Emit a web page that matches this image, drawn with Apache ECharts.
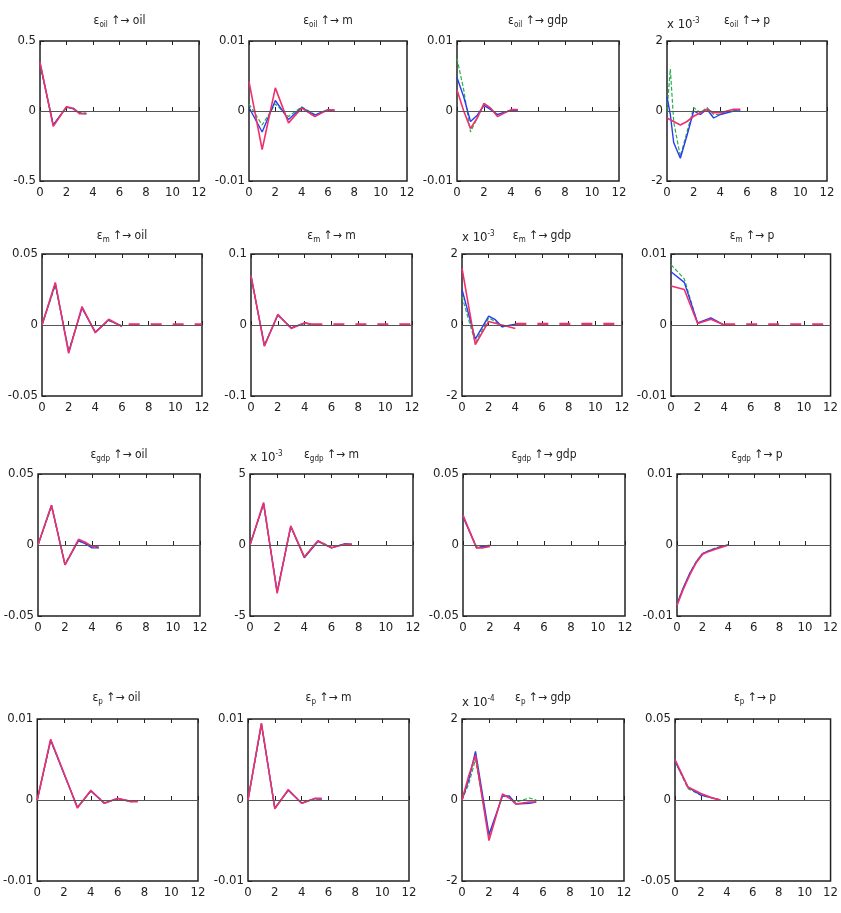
<!DOCTYPE html>
<html>
<head>
<meta charset="utf-8">
<script src="https://cdn.jsdelivr.net/npm/echarts@6/dist/echarts.min.js"></script>
<style>html,body{margin:0;background:#fff}#chart{width:841px;height:913px}</style>
</head>
<body>
<div id="chart"></div>
<script>
// impulse responses: shocks (rows) -> variables (columns)
const shocks = ['oil', 'm', 'gdp', 'p'];
const variables = ['oil', 'm', 'gdp', 'p'];
const xTicks = [0, 2, 4, 6, 8, 10, 12];

// row 1: oil shock
const t11 = [0, 1, 2, 2.5, 3, 3.5];
const red11 = [0.35, -0.11, 0.03, 0.02, -0.02, -0.02];
const blue11 = [0.34, -0.1, 0.03, 0.015, -0.015, -0.02];
const green11 = [0.33, -0.1, 0.025, 0.02, -0.01, -0.015];

const t12 = [0, 1, 2, 3, 4, 5, 6, 6.5];
const red12 = [0.0042, -0.0055, 0.0033, -0.0017, 0.0004, -0.0008, 0.0002, 0.0001];
const blue12 = [0.0005, -0.003, 0.0015, -0.0012, 0.0005, -0.0006, 0.0002, 0.0001];
const green12 = [0.001, -0.002, 0.001, -0.0008, 0.0006, -0.0005, 0.0001, 0.0001];

const t13 = [0, 0.5, 1, 1.5, 2, 2.5, 3, 3.5, 4, 4.5];
const red13 = [0.003, 0, -0.0025, -0.001, 0.0011, 0.0004, -0.0008, -0.0003, 0.0002, 0.0002];
const blue13 = [0.0048, 0.002, -0.0015, -0.0006, 0.0008, 0.0002, -0.0005, -0.0002, 0.0001, 0.0001];
const green13 = [0.0075, 0.003, -0.003, -0.001, 0.001, 0.0003, -0.0006, -0.0002, 0.0001, 0.0001];

const t14 = [0, 0.25, 0.5, 1, 1.5, 2, 2.5, 3, 3.5, 4, 4.5, 5, 5.5]; // x 10^-3
const red14 = [-0.2, -0.25, -0.3, -0.4, -0.3, -0.15, -0.05, 0.05, -0.05, -0.05, 0, 0.05, 0.05];
const blue14 = [0.4, -0.1, -0.9, -1.35, -0.7, 0, -0.1, 0.05, -0.2, -0.1, -0.05, 0, 0];
const green14 = [0, 1.2, -0.3, -1.3, -0.6, 0.1, -0.05, 0.1, -0.1, -0.1, 0, 0, 0];

// row 2: m shock
const t21 = [0, 1, 2, 3, 4, 5, 6];
const red21 = [0, 0.03, -0.02, 0.013, -0.0055, 0.004, -0.001];
const blue21 = [0, 0.029, -0.019, 0.012, -0.005, 0.0035, -0.001];
const green21 = [0, 0.028, -0.018, 0.012, -0.005, 0.003, -0.0005];

const t22 = [0, 1, 2, 3, 4, 4.5];
const red22 = [0.07, -0.03, 0.015, -0.005, 0.003, 0.001];
const blue22 = [0.069, -0.029, 0.014, -0.004, 0.003, 0.001];
const green22 = [0.068, -0.028, 0.014, -0.004, 0.002, 0.001];

const t23 = [0, 1, 2, 2.5, 3, 4]; // x 10^-3
const red23 = [1.6, -0.55, 0.1, 0.05, 0, -0.1];
const blue23 = [1.0, -0.4, 0.25, 0.15, -0.05, 0.02];
const green23 = [0.8, -0.5, 0.2, 0.1, -0.05, 0];

const t24 = [0, 1, 2, 3, 4];
const red24 = [0.0055, 0.005, 0.0002, 0.0008, 0];
const blue24 = [0.0075, 0.006, 0.0003, 0.001, 0];
const green24 = [0.0085, 0.0065, 0.0002, 0.0009, 0];

// long-run tails (dashed) for the m shock row: [start, end] and level
const tTail21 = [6.5, 12], tail21 = [0.0004, 0.0004];
const tTail22 = [4.5, 12], tail22 = [0.0008, 0.0008];
const tTail23 = [4, 12], tail23 = [0.03, 0.03];
const tTail24 = [4, 12], tail24 = [0.00005, 0.00005];

// row 3: gdp shock
const t31 = [0, 1, 2, 3, 3.5, 4, 4.5];
const red31 = [0, 0.028, -0.014, 0.004, 0.002, -0.001, -0.001];
const blue31 = [0, 0.028, -0.014, 0.003, 0.001, -0.002, -0.002];
const green31 = [0, 0.027, -0.013, 0.003, 0.001, -0.001, -0.002];

const t32 = [0, 1, 2, 3, 4, 5, 6, 7, 7.5]; // x 10^-3
const red32 = [0, 3.0, -3.4, 1.35, -0.85, 0.3, -0.2, 0.05, 0.05];
const blue32 = [0, 2.9, -3.3, 1.3, -0.9, 0.25, -0.2, 0.1, 0.05];
const green32 = [0, 2.9, -3.3, 1.3, -0.8, 0.3, -0.15, 0.05, 0];

const t33 = [0, 1, 1.5, 2];
const red33 = [0.021, -0.002, -0.002, -0.001];
const blue33 = [0.02, -0.002, -0.001, -0.001];
const green33 = [0.02, -0.001, -0.001, 0];

const t34 = [0, 0.5, 1, 1.5, 2, 2.5, 3, 3.5, 4];
const red34 = [-0.0085, -0.0062, -0.0042, -0.0025, -0.0013, -0.0009, -0.0006, -0.0003, 0];
const blue34 = [-0.0083, -0.006, -0.004, -0.0024, -0.0012, -0.0008, -0.0005, -0.0002, 0];
const green34 = [-0.0082, -0.006, -0.004, -0.0023, -0.0012, -0.0008, -0.0004, -0.0002, 0];

// row 4: p shock
const t41 = [0, 1, 2, 3, 4, 5, 6, 7, 7.5];
const red41 = [0, 0.0075, 0.0033, -0.001, 0.0012, -0.0004, 0.0002, -0.0002, -0.0002];
const blue41 = [0, 0.0074, 0.0032, -0.0009, 0.0011, -0.0004, 0.0002, -0.0002, -0.0001];
const green41 = [0, 0.0073, 0.0032, -0.0009, 0.0011, -0.0003, 0.0001, -0.0001, -0.0001];

const t42 = [0, 1, 2, 3, 4, 5, 5.5];
const red42 = [0, 0.0095, -0.0011, 0.0013, -0.0004, 0.0002, 0.0002];
const blue42 = [0, 0.0094, -0.001, 0.0012, -0.0004, 0.0002, 0.0001];
const green42 = [0, 0.0093, -0.001, 0.0012, -0.0003, 0.0001, 0.0001];

const t43 = [0, 0.5, 1, 2, 3, 3.5, 4, 5, 5.5]; // x 10^-4
const red43 = [0, 0.6, 1.1, -1.0, 0.15, 0.05, -0.1, -0.05, -0.05];
const blue43 = [0, 0.5, 1.2, -0.85, 0.1, 0.1, -0.1, -0.08, -0.05];
const green43 = [0, 0.4, 1.0, -0.9, 0.1, 0.05, -0.05, 0.05, 0];

const t44 = [0, 1, 2, 3, 3.5];
const red44 = [0.025, 0.008, 0.004, 0.001, 0];
const blue44 = [0.024, 0.008, 0.003, 0.001, 0];
const green44 = [0.024, 0.007, 0.003, 0.001, 0];

// y limits and the exponent shown above the axes (null = none)
const yMax = [0.5, 0.01, 0.01, 2, 0.05, 0.1, 2, 0.01, 0.05, 5, 0.05, 0.01, 0.01, 0.01, 2, 0.05];
const yExp = [null, null, null, -3, null, null, -3, null, null, -3, null, null, null, null, -4, null];

const panels = [
  [t11, red11, blue11, green11], [t12, red12, blue12, green12], [t13, red13, blue13, green13], [t14, red14, blue14, green14],
  [t21, red21, blue21, green21, tTail21, tail21], [t22, red22, blue22, green22, tTail22, tail22],
  [t23, red23, blue23, green23, tTail23, tail23], [t24, red24, blue24, green24, tTail24, tail24],
  [t31, red31, blue31, green31], [t32, red32, blue32, green32], [t33, red33, blue33, green33], [t34, red34, blue34, green34],
  [t41, red41, blue41, green41], [t42, red42, blue42, green42], [t43, red43, blue43, green43], [t44, red44, blue44, green44]
];

// plot boxes [left, right] per panel, [top, bottom] per row
const cols = [
  [[40, 199], [249, 407], [457, 619], [667, 827]],
  [[42, 202], [251, 412], [462, 622], [671, 833]],
  [[38, 200], [250, 413], [463, 625], [677, 837]],
  [[35, 198], [248, 409], [462, 624], [675, 835]]
];
const rows = [[41, 181], [254, 396], [474, 616], [719, 881]];
const titleY = [21, 236, 455, 698];

const font = '"DejaVu Sans Condensed", "Liberation Sans Narrow", Arial, sans-serif';
const grids = [], xAxes = [], yAxes = [], series = [], graphics = [];

panels.forEach((p, i) => {
  const r = Math.floor(i / 4), c = i % 4;
  const [l, rr] = cols[r][c], [top, bot] = rows[r];
  grids.push({ left: l, top: top, width: rr - l, height: bot - top, show: true, borderColor: '#222', borderWidth: 1.5, backgroundColor: '#fff' });
  const xBase = {
    gridIndex: i, type: 'value', min: 0, max: 12, interval: 2,
    axisLine: { show: false }, splitLine: { show: false },
    axisTick: { inside: true, length: 4, lineStyle: { color: '#222' } }
  };
  xAxes.push(Object.assign({}, xBase, {
    position: 'bottom',
    axisLabel: { fontFamily: font, fontSize: 13, color: '#222', margin: 5 }
  }));
  xAxes.push(Object.assign({}, xBase, { position: 'top', axisLabel: { show: false } }));
  const m = yMax[i];
  yAxes.push({
    gridIndex: i, type: 'value', min: -m, max: m, interval: m,
    axisLine: { show: false }, splitLine: { show: false },
    axisTick: { inside: true, length: 4, lineStyle: { color: '#222' } },
    axisLabel: {
      fontFamily: font, fontSize: 13, color: '#222', margin: 4,
      formatter: v => String(Math.round(v * 1e6) / 1e6)
    }
  });
  const [t, red, blue, green, tt, tail] = p;
  const pts = vals => t.map((x, k) => [x, vals[k]]);
  series.push({
    type: 'line', xAxisIndex: 2 * i, yAxisIndex: i, data: pts(green), showSymbol: false, silent: true,
    lineStyle: { color: '#22b04a', width: 1.2, type: [4, 2] },
    markLine: { silent: true, symbol: 'none', label: { show: false }, lineStyle: { color: '#555', width: 1, type: 'solid' }, data: [{ yAxis: 0 }] }
  });
  series.push({ type: 'line', xAxisIndex: 2 * i, yAxisIndex: i, data: pts(blue), showSymbol: false, silent: true, lineStyle: { color: '#2a3cf0', width: 1.4 } });
  series.push({ type: 'line', xAxisIndex: 2 * i, yAxisIndex: i, data: pts(red), showSymbol: false, silent: true, lineStyle: { color: '#f0306a', width: 1.6 } });
  if (tail) {
    series.push({
      type: 'line', xAxisIndex: 2 * i, yAxisIndex: i, data: tt.map((x, k) => [x, tail[k]]), showSymbol: false, silent: true,
      lineStyle: { color: '#f0306a', width: 2.6, type: [11, 11] }
    });
  }
  graphics.push({
    type: 'text', x: (l + rr) / 2, y: titleY[r],
    style: {
      text: '{e|ε}{s|' + shocks[r] + '}{n| ↑→ ' + variables[c] + '}',
      align: 'center', verticalAlign: 'middle', fill: '#222', font: '12px ' + font,
      rich: {
        e: { fontSize: 12, lineHeight: 16, fontFamily: font },
        s: { fontSize: 8, lineHeight: 9, verticalAlign: 'bottom', fontFamily: font },
        n: { fontSize: 12, lineHeight: 16, fontFamily: font }
      }
    }
  });
  if (yExp[i] !== null) {
    graphics.push({
      type: 'text', x: l, y: top - 16,
      style: {
        text: '{a|x 10}{b|' + yExp[i] + '}', fill: '#222', verticalAlign: 'middle',
        rich: {
          a: { fontSize: 13, lineHeight: 16, fontFamily: font },
          b: { fontSize: 8, lineHeight: 9, verticalAlign: 'top', fontFamily: font }
        }
      }
    });
  }
});

const chart = echarts.init(document.getElementById('chart'));
chart.setOption({
  backgroundColor: '#fff',
  animation: false,
  grid: grids,
  xAxis: xAxes,
  yAxis: yAxes,
  series: series,
  graphic: graphics
});
</script>
</body>
</html>
